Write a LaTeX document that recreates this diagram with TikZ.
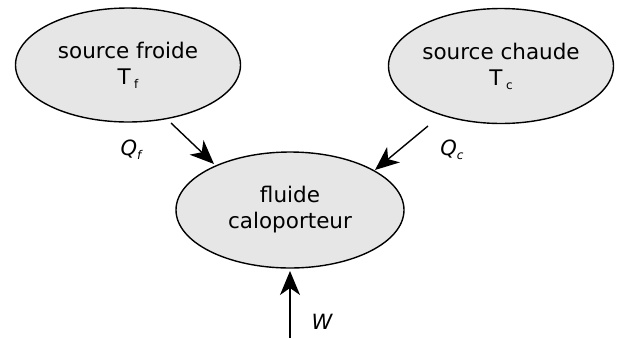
\documentclass[tikz,border=0pt]{standalone}
\usepackage{fontspec}
\setmainfont{DejaVu Sans}
\usetikzlibrary{arrows.meta,shapes.geometric}
\definecolor{fillgray}{HTML}{E6E6E6}
\tikzset{
  blob/.style={ellipse, draw=black, line width=1.4pt, fill=fillgray, inner sep=0pt, align=center,
    font=\fontsize{21.5}{26}\selectfont},
  flow/.style={line width=1.4pt, -{Stealth[length=24pt,width=20pt,inset=7pt]}},
  lbl/.style={font=\fontsize{21}{24}\selectfont\itshape, inner sep=0pt}
}
\newcommand{\subf}[1]{\raisebox{-4pt}{\fontsize{12}{12}\selectfont #1}}
\begin{document}
\begin{tikzpicture}[x=1pt,y=-1pt]
\useasboundingbox (0,0) rectangle (621,338);
\node[blob, minimum width=225pt, minimum height=114pt] (froide) at (128,65) {source froide\\T\,\subf{f}};
\node[blob, minimum width=225pt, minimum height=115pt] (chaude) at (501,66) {source chaude\\T\,\subf{c}};
\node[blob, minimum width=228pt, minimum height=116pt] (fluide) at (290,210) {fluide\\caloporteur};
\coordinate (qfs) at (171,123);
\coordinate (qfe) at (214,164);
\coordinate (qcs) at (428,126);
\coordinate (qce) at (375,170);
\coordinate (ws) at (290,338);
\coordinate (we) at (290,271);
\draw[flow] (qfs) -- (qfe);
\draw[flow] (qcs) -- (qce);
\draw[flow] (ws) -- (we);
\node[lbl] (lqf) at (131,150) {Q\subf{f}};
\node[lbl] (lqc) at (452,150) {Q\subf{c}};
\node[lbl] (lw) at (322,322) {W};
\end{tikzpicture}
\end{document}
